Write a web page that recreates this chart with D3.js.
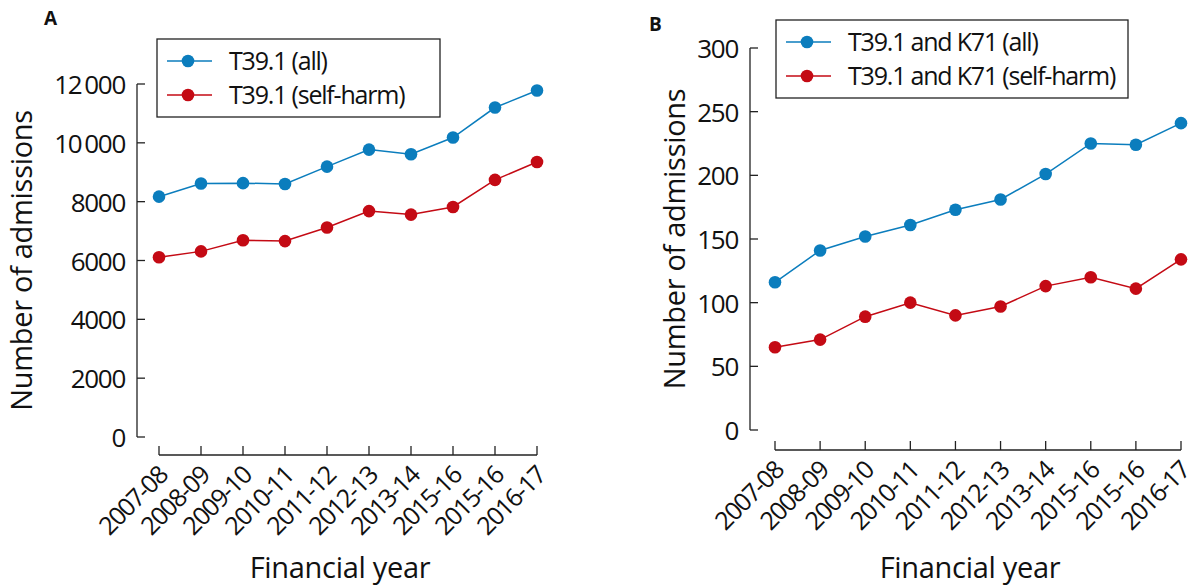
<!DOCTYPE html>
<html>
<head>
<meta charset="utf-8">
<script src="https://cdn.jsdelivr.net/npm/d3@7"></script>
<style>
  body { margin: 0; background: #fff; }
  svg text { font-family: "Open Sans", sans-serif; fill: #111; }
</style>
</head>
<body>
<div id="chart"></div>
<script>
// financial years (note the repeated 2015-16 label, as printed)
const years = ["2007-08", "2008-09", "2009-10", "2010-11", "2011-12", "2012-13", "2013-14", "2015-16", "2015-16 ", "2016-17"];

// panel A: T39.1
const allA = [8170, 8620, 8630, 8600, 9190, 9770, 9610, 10180, 11200, 11780];
const selfA = [6110, 6310, 6690, 6660, 7120, 7680, 7560, 7820, 8740, 9350];
const ticksA = [0, 2000, 4000, 6000, 8000, 10000, 12000];

// panel B: T39.1 and K71
const allB = [116, 141, 152, 161, 173, 181, 201, 225, 224, 241];
const selfB = [65, 71, 89, 100, 90, 97, 113, 120, 111, 134];
const ticksB = [0, 50, 100, 150, 200, 250, 300];

const blue = "#0b7dbd", red = "#c40a14";

const svg = d3.select("#chart").append("svg")
  .attr("width", 1198).attr("height", 587);

const fmt = v => v >= 10000 ? d3.format(",")(v).replace(",", "\u2009") : String(v);

function drawPanel(p) {
  const g = svg.append("g");
  const x = d3.scalePoint().domain(years).range([p.x0, p.x1]);
  const y = d3.scaleLinear().domain([0, p.ymax]).range([p.y0, p.y1]);

  // y axis: line + inward ticks
  g.append("line").attr("x1", p.ax).attr("x2", p.ax)
    .attr("y1", y(0)).attr("y2", y(p.ymax)).attr("stroke", "#222").attr("stroke-width", 1.3);
  const yt = g.selectAll(".yt").data(p.ticks).enter().append("g");
  yt.append("line").attr("x1", p.ax).attr("x2", p.ax + 8)
    .attr("y1", d => y(d)).attr("y2", d => y(d)).attr("stroke", "#222").attr("stroke-width", 1.3);
  yt.append("text").attr("x", p.ax - 12).attr("y", d => y(d) + 10)
    .attr("text-anchor", "end").attr("font-size", 26).attr("letter-spacing", -1.3).text(fmt);

  // x axis: line + upward ticks
  g.append("line").attr("x1", p.x0).attr("x2", p.x1)
    .attr("y1", p.xy).attr("y2", p.xy).attr("stroke", "#222").attr("stroke-width", 1.3);
  const xt = g.selectAll(".xt").data(years).enter().append("g");
  xt.append("line").attr("x1", d => x(d)).attr("x2", d => x(d))
    .attr("y1", p.xy).attr("y2", p.xy - 9).attr("stroke", "#222").attr("stroke-width", 1.3);
  xt.append("text")
    .attr("transform", d => `translate(${x(d) + 10},${p.xy + 22}) rotate(-45)`)
    .attr("text-anchor", "end").attr("font-size", 25).attr("letter-spacing", -1.4)
    .text(d => d.trim());

  // axis titles
  g.append("text").attr("transform", `translate(${p.ylx},${(y(0) + y(p.ymax)) / 2}) rotate(-90)`)
    .attr("text-anchor", "middle").attr("font-size", 29).attr("letter-spacing", -0.3).text("Number of admissions");
  g.append("text").attr("x", (p.x0 + p.x1) / 2 - 8).attr("y", 578)
    .attr("text-anchor", "middle").attr("font-size", 29).attr("letter-spacing", -0.3).text("Financial year");

  // panel letter
  g.append("text").attr("x", p.lx).attr("y", p.ly).attr("font-size", 19)
    .attr("font-weight", "bold").attr("font-family", "Liberation Sans, Arial, sans-serif").text(p.letter);

  // series
  const line = d3.line().x((d, i) => x(years[i])).y(d => y(d));
  p.series.forEach(s => {
    g.append("path").attr("d", line(s.values)).attr("fill", "none")
      .attr("stroke", s.color).attr("stroke-width", 1.5);
    g.selectAll(null).data(s.values).enter().append("circle")
      .attr("cx", (d, i) => x(years[i])).attr("cy", d => y(d)).attr("r", 6.3).attr("fill", s.color);
  });

  // legend
  const lg = g.append("g").attr("transform", `translate(${p.lgx},${p.lgy})`);
  lg.append("rect").attr("width", p.lgw).attr("height", 78)
    .attr("fill", "#fff").attr("stroke", "#222").attr("stroke-width", 1.3);
  p.series.forEach((s, i) => {
    const cy = 22 + i * 34;
    lg.append("line").attr("x1", 10).attr("x2", 55).attr("y1", cy).attr("y2", cy)
      .attr("stroke", s.color).attr("stroke-width", 1.5);
    lg.append("circle").attr("cx", 31).attr("cy", cy).attr("r", 6.3).attr("fill", s.color);
    lg.append("text").attr("x", 72).attr("y", cy + 9).attr("font-size", 25)
      .attr("letter-spacing", -1.2).text(s.name);
  });
}

drawPanel({
  letter: "A", lx: 44, ly: 25,
  ax: 137, x0: 159, x1: 537, xy: 455, y0: 437, y1: 84, ymax: 12000, ticks: ticksA, ylx: 32,
  lgx: 157, lgy: 39, lgw: 283,
  series: [
    { name: "T39.1 (all)", values: allA, color: blue },
    { name: "T39.1 (self-harm)", values: selfA, color: red }
  ]
});

drawPanel({
  letter: "B", lx: 649, ly: 31,
  ax: 750, x0: 775, x1: 1181, xy: 450, y0: 430, y1: 48, ymax: 300, ticks: ticksB, ylx: 685,
  lgx: 776, lgy: 20, lgw: 352,
  series: [
    { name: "T39.1 and K71 (all)", values: allB, color: blue },
    { name: "T39.1 and K71 (self-harm)", values: selfB, color: red }
  ]
});
</script>
</body>
</html>
